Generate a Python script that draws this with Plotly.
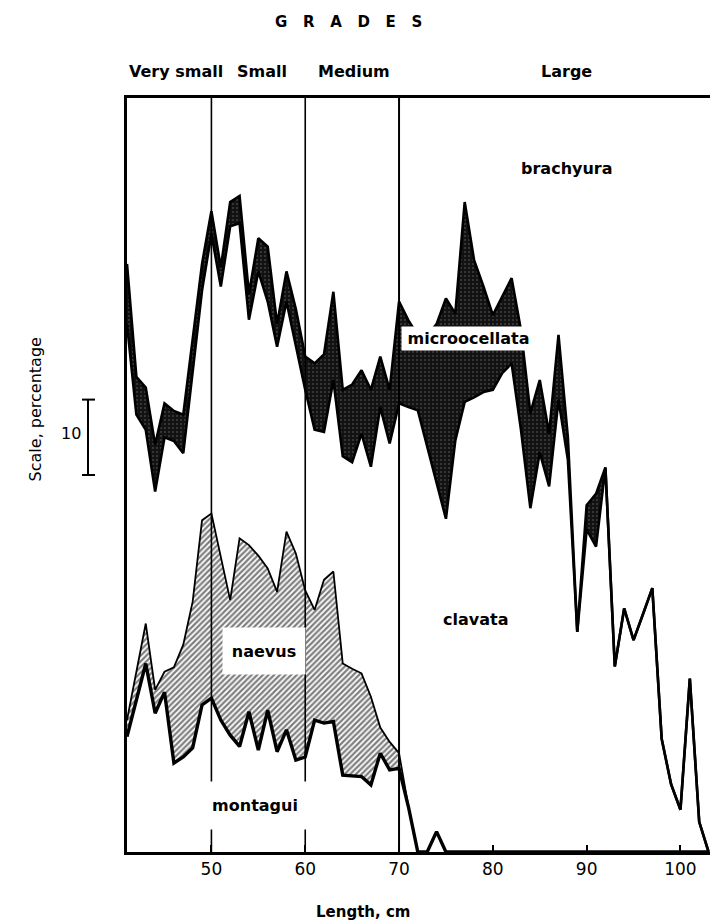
import plotly.graph_objects as go

# Length classes (cm) and cumulative species composition (% of catch),
# stacked from the bottom: montagui, naevus, clavata, microocellata, brachyura.
length_cm = list(range(41, 104))

montagui_top = [
    15.3, 20.0, 25.0, 18.4, 21.2, 11.8, 12.6, 13.8, 19.5, 20.4,   # 41-50
    17.5, 15.5, 14.0, 18.6, 13.5, 18.8, 13.3, 16.2, 12.2, 12.6,   # 51-60
    17.5, 17.1, 17.3, 10.2, 10.1, 10.0, 8.9, 13.1, 10.9, 11.1,    # 61-70
    6.0, 0, 0, 2.7, 0, 0, 0, 0, 0, 0,                             # 71-80
    0, 0, 0, 0, 0, 0, 0, 0, 0, 0,                                 # 81-90
    0, 0, 0, 0, 0, 0, 0, 0, 0, 0,                                 # 91-100
    0, 0, 0,                                                      # 101-103
]

naevus_top = [
    17.5, 24.0, 30.3, 21.5, 23.9, 24.5, 27.5, 33.2, 44.0, 44.9,
    39.0, 33.4, 41.6, 40.7, 39.3, 37.6, 34.5, 42.5, 39.6, 34.7,
    32.1, 36.1, 37.2, 25.0, 24.3, 23.7, 20.6, 16.5, 14.6, 13.1,
    6.0, 0, 0, 2.7, 0, 0, 0, 0, 0, 0,
    0, 0, 0, 0, 0, 0, 0, 0, 0, 0,
    0, 0, 0, 0, 0, 0, 0, 0, 0, 0,
    0, 0, 0,
]

clavata_top = [
    70.0, 58.0, 56.0, 47.8, 55.0, 54.5, 52.9, 64.0, 74.5, 82.0,
    75.0, 83.0, 83.4, 70.6, 77.0, 73.0, 67.0, 73.0, 67.0, 61.3,
    56.0, 55.7, 62.6, 52.5, 51.7, 55.5, 51.1, 59.0, 54.2, 59.5,
    59.0, 58.6, 53.8, 49.0, 44.2, 54.6, 59.7, 60.3, 61.0, 61.3,
    63.5, 64.8, 56.0, 45.6, 53.0, 48.5, 60.0, 52.0, 29.2, 42.8,
    40.5, 51.0, 24.6, 32.3, 28.1, 31.5, 35.0, 15.0, 9.0, 5.6,
    23.0, 4.0, 0,
]

microocellata_top = [
    78.0, 63.0, 61.6, 54.0, 59.5, 58.5, 58.0, 68.0, 78.0, 85.0,
    77.5, 86.2, 87.0, 74.0, 81.4, 80.3, 70.0, 77.0, 72.0, 65.7,
    64.8, 66.0, 74.3, 61.3, 62.0, 63.9, 61.3, 65.7, 61.3, 73.0,
    70.5, 68.5, 68.5, 70.0, 73.4, 71.4, 86.2, 78.5, 75.0, 71.2,
    73.6, 76.1, 69.2, 58.2, 62.6, 55.5, 68.6, 55.0, 29.2, 46.0,
    47.5, 51.0, 24.6, 32.3, 28.1, 31.5, 35.0, 15.0, 9.0, 5.6,
    23.0, 4.0, 0,
]

length_ticks = [50, 60, 70, 80, 90, 100]
grade_bounds = [50, 60, 70]
grade_names = ["Very small", "Small", "Medium", "Large"]

FONT = "DejaVu Sans"

fig = go.Figure()

# naevus band: diagonal hatching between montagui and naevus boundaries
fig.add_trace(go.Scatter(x=length_cm, y=montagui_top, mode="lines",
                         line=dict(width=0, color="black"), hoverinfo="skip"))
fig.add_trace(go.Scatter(x=length_cm, y=naevus_top, mode="lines",
                         line=dict(width=0, color="black"), fill="tonexty",
                         fillpattern=dict(shape="/", fgcolor="black", bgcolor="white",
                                          size=4, solidity=0.55),
                         hoverinfo="skip"))

# microocellata band: dark stippled fill
fig.add_trace(go.Scatter(x=length_cm, y=clavata_top, mode="lines",
                         line=dict(width=0, color="black"), hoverinfo="skip"))
fig.add_trace(go.Scatter(x=length_cm, y=microocellata_top, mode="lines",
                         line=dict(width=0, color="black"), fill="tonexty",
                         fillpattern=dict(shape=".", fgcolor="#c8c8c8", bgcolor="#121212",
                                          size=4, solidity=0.1),
                         hoverinfo="skip"))

# boundary lines on top of the fills
for ys, w in [(naevus_top, 1.8), (clavata_top, 2.6),
              (microocellata_top, 2.6), (montagui_top, 3.4)]:
    fig.add_trace(go.Scatter(x=length_cm, y=ys, mode="lines",
                             line=dict(color="black", width=w), hoverinfo="skip"))

# grade boundaries
for b in grade_bounds:
    fig.add_shape(type="line", xref="x", yref="y", x0=b, x1=b, y0=0, y1=100,
                  line=dict(color="black", width=1.6 if b < 70 else 2), layer="above")

# 10 % scale bar left of the axis
bar_x, serif_l, serif_r = -0.0669, -0.0772, -0.0549
fig.add_shape(type="line", xref="paper", yref="y", x0=bar_x, x1=bar_x, y0=50, y1=60,
              line=dict(color="black", width=2))
for yy in (50, 60):
    fig.add_shape(type="line", xref="paper", yref="y", x0=serif_l, x1=serif_r, y0=yy, y1=yy,
                  line=dict(color="black", width=2))


def label(text, x, y, xref="x", yref="y", **kw):
    return dict(text=text, x=x, y=y, xref=xref, yref=yref, showarrow=False,
                xanchor="center", yanchor="middle", **kw)


ann = []
ann.append(label("10", -0.0952, 55.5, xref="paper",
                 font=dict(family=FONT, size=16, color="black")))
ann.append(label("Scale, percentage", -0.1578, 58.7, xref="paper", textangle=-90,
                 font=dict(family=FONT, size=16, color="black")))
ann.append(label("Length, cm", 0.4048, -0.0796, xref="paper", yref="paper",
                 font=dict(family=FONT, size=15, color="black", weight="bold")))

spaced = "\u00a0\u00a0\u00a0".join("GRADES")
ann.append(label(spaced, 0.3791, 1.1008, xref="paper", yref="paper",
                 font=dict(family=FONT, size=15, color="black", weight="bold")))
for name, px in zip(grade_names, [0.0840, 0.2324, 0.3894, 0.7547]):
    ann.append(label(name, px, 1.0345, xref="paper", yref="paper",
                     font=dict(family=FONT, size=16, color="black", weight="bold")))

species_font = dict(family=FONT, size=16, color="black", weight="bold")
ann.append(label("brachyura", 87.86, 90.6, font=species_font))
ann.append(label("microocellata", 77.41, 68.1, font=species_font,
                 bgcolor="white", width=133, height=23, borderpad=0))
ann.append(label("clavata", 78.2, 30.8, font=species_font))
ann.append(label("naevus", 55.6, 26.7, font=species_font,
                 bgcolor="white", width=82, height=46, borderpad=0))
ann.append(label("montagui", 54.65, 6.2, font=species_font,
                 bgcolor="white", width=104, height=47, borderpad=0))

fig.update_layout(
    width=710, height=922,
    margin=dict(l=127, r=0, t=98, b=70),
    plot_bgcolor="white", paper_bgcolor="white",
    showlegend=False,
    annotations=ann,
)
fig.update_xaxes(range=[41, 103.15], tickvals=length_ticks, ticks="inside", ticklen=7,
                 tickwidth=1.5, tickcolor="black", showline=True, linewidth=3,
                 linecolor="black", mirror=True, showgrid=False, zeroline=False,
                 tickfont=dict(family=FONT, size=17, color="black"))
fig.update_yaxes(range=[0, 100], showticklabels=False, ticks="", showline=True,
                 linewidth=3, linecolor="black", showgrid=False, zeroline=False)

fig.write_html("out.html")
